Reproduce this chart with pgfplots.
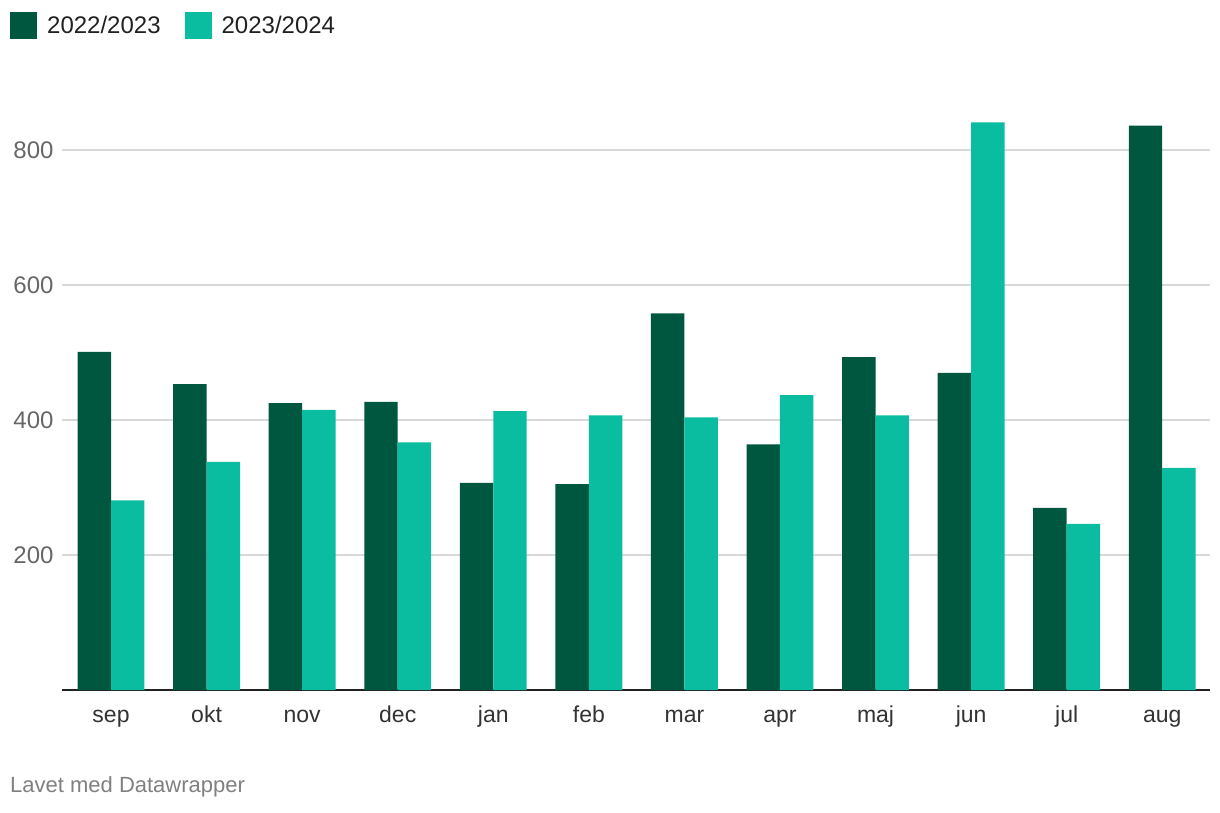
\documentclass[border=0pt]{standalone}
\usepackage{pgfplots}
\pgfplotsset{compat=1.18}
\usepackage{fontspec}
\setmainfont{Liberation Sans}
\definecolor{darkg}{HTML}{00573F}
\definecolor{lightg}{HTML}{0BBDA0}
\definecolor{gridc}{HTML}{D9D9D9}
\definecolor{tickc}{HTML}{666666}
\definecolor{labc}{HTML}{333333}
\begin{document}
\begin{tikzpicture}[x=1pt,y=1pt]
\path[use as bounding box] (0,0) rectangle (1220,812);
\begin{axis}[
  at={(62pt,122pt)}, anchor=south west,
  scale only axis, width=1148pt, height=607.5pt,
  xmin=-0.513, xmax=11.5, ymin=0, ymax=900,
  axis x line*=bottom, axis y line*=left,
  y axis line style={draw=none},
  x axis line style={line width=2pt, color=black!87},
  xtick={0,...,11},
  xticklabels={sep,okt,nov,dec,jan,feb,mar,apr,maj,jun,jul,aug},
  ytick={200,400,600,800},
  major tick length=0pt,
  tick style={draw=none},
  ymajorgrids, grid style={color=gridc, line width=1.5pt},
  xticklabel style={font=\fontsize{23}{27}\selectfont, text=labc, anchor=base, yshift=-32pt},
  yticklabel style={font=\fontsize{24}{28}\selectfont, text=tickc, xshift=-5pt},
  /pgf/number format/assume math mode=true,
  legend style={at={(axis description cs:-0.0453,1.116)}, anchor=north west,
    draw=none, fill=none, inner sep=0pt, legend columns=2,
    font=\fontsize{24}{28}\selectfont, text=black!87,
    /tikz/every odd column/.append style={column sep=8pt},
    /tikz/every even column/.append style={column sep=22pt}},
  legend image code/.code={\fill[#1] (0pt,-13.5pt) rectangle (27pt,13.5pt);},
]
\addlegendimage{fill=darkg, draw=none}
\addlegendentry{2022/2023}
\addlegendimage{fill=lightg, draw=none}
\addlegendentry{2023/2024}
\addplot[ybar, bar width=0.35, bar shift=-0.175, fill=darkg, draw=none, forget plot] coordinates {
(0,501) (1,453) (2,425) (3,427) (4,307) (5,305) (6,558) (7,364) (8,493) (9,470) (10,270) (11,836)};
\addplot[ybar, bar width=0.35, bar shift=0.175, fill=lightg, draw=none, forget plot] coordinates {
(0,281) (1,338) (2,415) (3,367) (4,413) (5,407) (6,404) (7,437) (8,407) (9,841) (10,246) (11,329)};
\end{axis}
\node[anchor=west, inner sep=0pt, text=black!50, font=\fontsize{22}{26}\selectfont] at (10,25) {Lavet med Datawrapper};
\end{tikzpicture}
\end{document}
